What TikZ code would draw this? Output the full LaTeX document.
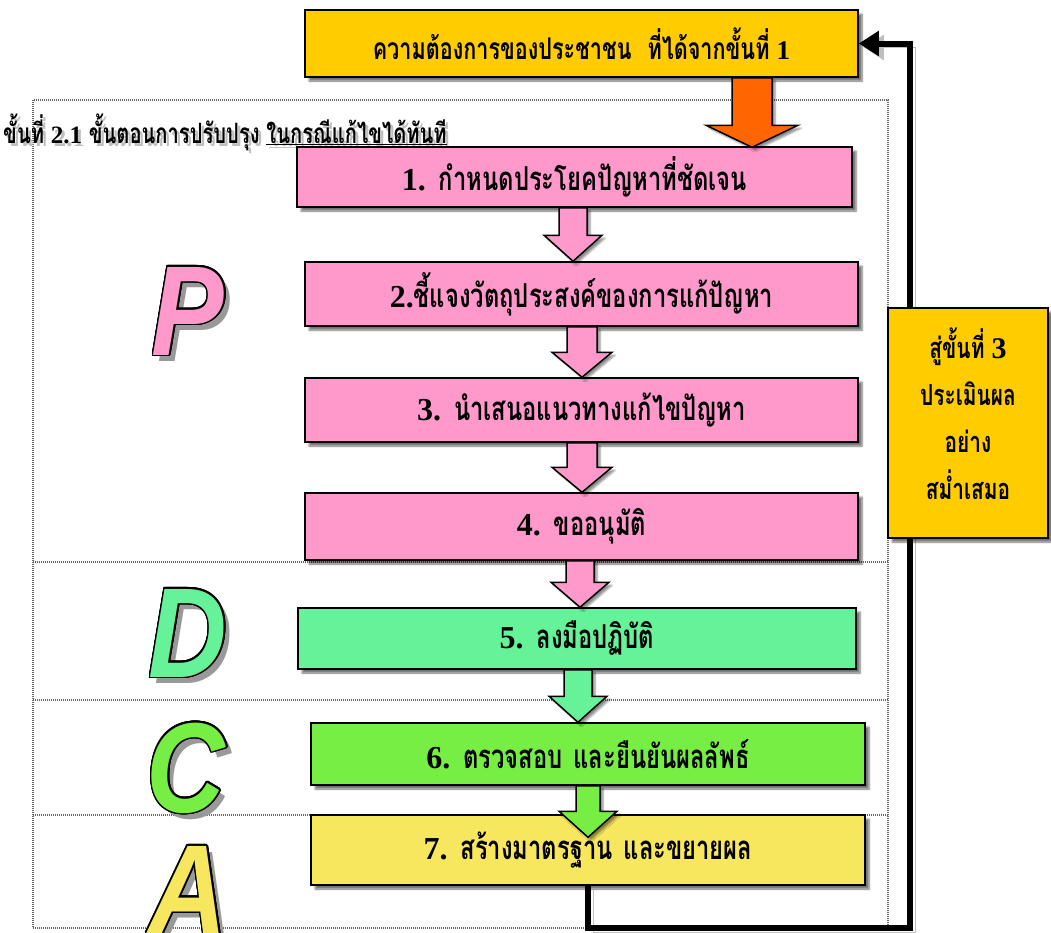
\documentclass[tikz,border=0pt]{standalone}
\usepackage{fontspec}
\setmainfont{Liberation Serif}
\newfontfamily\thai[Script=Thai,FakeStretch=0.72]{Loma}
\newfontfamily\letterfont[FakeStretch=0.85]{Liberation Sans}
\usetikzlibrary{shadows.blur,arrows.meta,calc}

\definecolor{gold}{HTML}{FFCC00}
\definecolor{orangeA}{HTML}{FF6600}
\definecolor{pinkA}{HTML}{FF99CC}
\definecolor{mintA}{HTML}{66F299}
\definecolor{limeA}{HTML}{77EE44}
\definecolor{yellowA}{HTML}{F7E75E}

% number + Thai label inside a step box
\newcommand\stepnum[1]{{\fontsize{32}{32}\selectfont\bfseries #1}}
\newcommand\stepthai[1]{{\thai\bfseries\fontsize{33}{34}\selectfont #1}}
\newcommand\steptext[2]{\stepnum{#1}\hspace{13pt}\stepthai{#2}}
\newcommand\wordgap{\hspace{11pt}}
% gray drop copy behind a text
\newcommand\shadowed[1]{\rlap{\kern3pt\raisebox{-3pt}{\textcolor{black!25}{#1}}}#1}
% big outlined phase letter with a drop shadow
\newcommand\phaseletter[2]{%
  \setbox0=\hbox{\letterfont\bfseries\itshape\fontsize{128}{128}\selectfont #2}%
  \rlap{\kern6pt\raisebox{-6pt}{\textcolor{black!40}{\copy0}}}%
  \foreach \a in {0,20,...,340}{%
    \pgfmathsetlengthmacro\dx{1.6pt*cos(\a)}%
    \pgfmathsetlengthmacro\dy{1.6pt*sin(\a)}%
    \rlap{\kern\dx\raisebox{\dy}{\textcolor{black}{\copy0}}}}%
  \textcolor{#1}{\copy0}}

\tikzset{
  stepbox/.style={draw=black, line width=1.5pt, inner sep=0pt,
    blur shadow={shadow xshift=4pt, shadow yshift=-4pt, shadow blur steps=6, shadow opacity=55}},
  blockarr/.style={draw=black, line width=1.5pt, line join=miter,
    blur shadow={shadow xshift=3pt, shadow yshift=-3pt, shadow blur steps=5, shadow opacity=45}},
  frameline/.style={draw=black!60, line width=1.2pt, dash pattern=on 1pt off 1pt},
  fbline/.style={draw=black, line width=6pt, line join=miter,
    -{Triangle[length=20pt,width=24pt]},
    preaction={draw=black!25, transform canvas={xshift=5pt,yshift=-4pt}}},
  letternode/.style={anchor=base, inner sep=0pt}
}

% block arrow: colour, from node, to node, x centre, shaft half width,
% head half width, head length, overlap below the target's top edge
\newcommand\blockarrow[8]{%
  \draw[blockarr, fill=#1] let \p1=(#2.south), \p2=(#3.north) in
    ({(#4-#5)*1pt},\y1) -- ({(#4-#5)*1pt},{\y2-#8pt+#7pt}) --
    ({(#4-#6)*1pt},{\y2-#8pt+#7pt}) -- ({#4pt},{\y2-#8pt}) --
    ({(#4+#6)*1pt},{\y2-#8pt+#7pt}) -- ({(#4+#5)*1pt},{\y2-#8pt+#7pt}) --
    ({(#4+#5)*1pt},\y1) -- cycle;}

\begin{document}
\begin{tikzpicture}[x=1pt,y=-1pt]
\useasboundingbox (0,0) rectangle (1051,932);

% dotted frame of step 2.1 and the PDCA bands
\draw[frameline] (33,100) rectangle (888,928);
\draw[frameline] (33,562) -- (888,562);
\draw[frameline] (33,700) -- (888,700);
\draw[frameline] (33,815) -- (888,815);

% heading
\node (title) [anchor=base west, inner sep=0pt] at (3,143)
  {\shadowed{\thai\bfseries\fontsize{28}{30}\selectfont ขั้นที่ {\rmfamily\fontsize{25}{26}\selectfont 2.1} ขั้นตอนการปรับปรุง \underline{ในกรณีแก้ไขได้ทันที}}};

% phase letters
\node (P) [letternode] at (188,355) {\phaseletter{pinkA}{P}};
\node (D) [letternode] at (188,677) {\phaseletter{mintA}{D}};
\node (C) [letternode] at (186,812) {\phaseletter{limeA}{C}};
\node (A) [letternode] at (188,934) {\phaseletter{yellowA}{A}};

% feedback loop from step 7 back to the needs
\node (top) [stepbox, fill=gold, minimum width=553pt, minimum height=67pt] at (581.5,43.5)
  {\thai\bfseries\fontsize{30}{30}\selectfont ความต้องการของประชาชน\hspace{16pt}ที่ได้จากขั้นที่ {\rmfamily\fontsize{27}{27}\selectfont 1}};
\node (b7) [stepbox, fill=yellowA, minimum width=554pt, minimum height=70pt] at (588,850)
  {\steptext{7.}{สร้างมาตรฐาน\wordgap และขยายผล}};
\draw[fbline] (b7.south) |- (910,928) |- (top.east);

% steps
\node (b1) [stepbox, fill=pinkA, minimum width=555pt, minimum height=60pt] at (574.5,177)
  {\steptext{1.}{กำหนดประโยคปัญหาที่ชัดเจน}};
\node (b2) [stepbox, fill=pinkA, minimum width=553pt, minimum height=64pt] at (581.5,294)
  {\stepnum{2.}\stepthai{ชี้แจงวัตถุประสงค์ของการแก้ปัญหา}};
\node (b3) [stepbox, fill=pinkA, minimum width=553pt, minimum height=64pt] at (581.5,410)
  {\steptext{3.}{นำเสนอแนวทางแก้ไขปัญหา}};
\node (b4) [stepbox, fill=pinkA, minimum width=553pt, minimum height=67pt] at (581.5,526.5)
  {\steptext{4.}{ขออนุมัติ}};
\node (b5) [stepbox, fill=mintA, minimum width=558pt, minimum height=61pt] at (577,638.5)
  {\steptext{5.}{ลงมือปฏิบัติ}};
\node (b6) [stepbox, fill=limeA, minimum width=554pt, minimum height=62pt] at (588,754)
  {\steptext{6.}{ตรวจสอบ\wordgap และยืนยันผลลัพธ์}};

% arrows between the steps
\blockarrow{orangeA}{top}{b1}{752}{20}{46}{22}{1}
\blockarrow{pinkA}{b1}{b2}{573}{14}{29}{26}{0}
\blockarrow{pinkA}{b2}{b3}{582}{15}{30}{25}{0}
\blockarrow{pinkA}{b3}{b4}{582}{15}{30}{25}{0}
\blockarrow{pinkA}{b4}{b5}{580}{14}{29}{25}{0}
\blockarrow{mintA}{b5}{b6}{578}{14}{29}{26}{0}
\blockarrow{limeA}{b6}{b7}{588}{12}{29}{26}{23}

% continuous evaluation note
\node (eval) [stepbox, fill=gold, minimum width=160pt, minimum height=230pt] at (968,423) {};
\node (evaltext) [align=center, inner sep=0pt,
  font=\thai\bfseries\fontsize{29}{47}\selectfont] at (968,414)
  {สู่ขั้นที่ {\rmfamily\fontsize{30}{30}\selectfont 3}\\ประเมินผล\\อย่าง\\สม่ำเสมอ};
\end{tikzpicture}
\end{document}
